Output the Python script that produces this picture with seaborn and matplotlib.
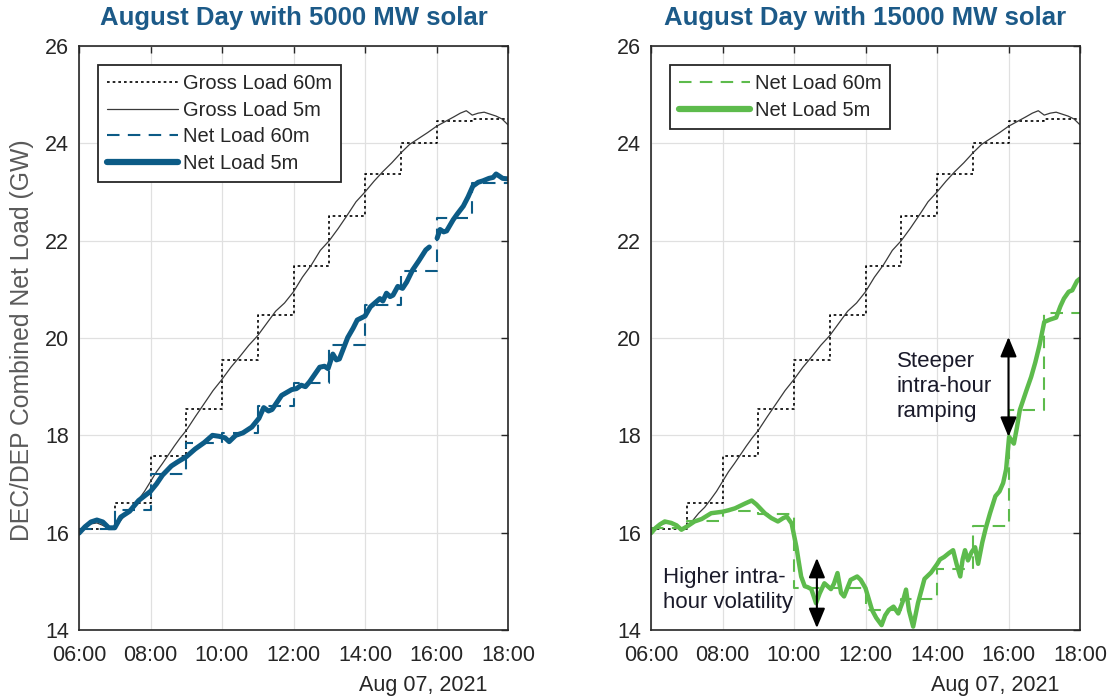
import numpy as np
import pandas as pd
import matplotlib
matplotlib.use("Agg")
import matplotlib.pyplot as plt
import seaborn as sns
from matplotlib.lines import Line2D

# ---------------- data ----------------
hour_starts = [6, 7, 8, 9, 10, 11, 12, 13, 14, 15, 16, 17]
x_ticks = [6, 8, 10, 12, 14, 16, 18]
x_tick_labels = ["06:00", "08:00", "10:00", "12:00", "14:00", "16:00", "18:00"]
y_ticks = [14, 16, 18, 20, 22, 24, 26]

titles = ["August Day with 5000 MW solar", "August Day with 15000 MW solar"]
ylabel = "DEC/DEP Combined Net Load (GW)"
date_label = "Aug 07, 2021"

gross_60m = [16.07, 16.60, 17.58, 18.54, 19.55, 20.47, 21.48, 22.50, 23.38, 24.00, 24.45, 24.51]
net5000_60m = [16.08, 16.47, 17.20, 17.84, 18.05, 18.60, 19.08, 19.85, 20.68, 21.38, 22.47, 23.19]
net15000_60m = [16.09, 16.23, 16.45, 16.38, 14.86, 14.86, 14.41, 14.63, 15.25, 16.14, 18.52, 20.51]

gross_5m_time = ["06:00", "06:10", "06:20", "06:30", "06:40", "06:50", "07:00", "07:10", "07:20", "07:30",
                 "07:40", "07:50", "08:00", "08:10", "08:20", "08:30", "08:40", "08:50", "09:00", "09:15",
                 "09:30", "09:45", "10:00", "10:15", "10:30", "10:45", "11:00", "11:15", "11:30", "11:45",
                 "12:00", "12:15", "12:30", "12:45", "13:00", "13:15", "13:30", "13:45", "14:00", "14:15",
                 "14:30", "14:45", "15:00", "15:15", "15:30", "15:45", "16:00", "16:15", "16:30", "16:40",
                 "16:50", "17:00", "17:10", "17:20", "17:30", "17:40", "17:50", "18:00"]
gross_5m_gw = [16.00, 16.10, 16.18, 16.20, 16.15, 16.08, 16.10, 16.25, 16.40, 16.52,
               16.68, 16.85, 17.05, 17.25, 17.42, 17.60, 17.78, 17.95, 18.10, 18.38,
               18.65, 18.92, 19.15, 19.40, 19.62, 19.85, 20.05, 20.30, 20.55, 20.72,
               20.95, 21.25, 21.50, 21.80, 22.00, 22.25, 22.52, 22.80, 23.00, 23.22,
               23.42, 23.60, 23.80, 23.98, 24.10, 24.22, 24.35, 24.45, 24.55, 24.62,
               24.67, 24.58, 24.62, 24.64, 24.60, 24.56, 24.50, 24.38]

net5000_5m_time = ["06:00", "06:10", "06:20", "06:30", "06:40", "06:50", "07:00", "07:10", "07:25", "07:40",
                   "08:00", "08:10", "08:20", "08:35", "08:45", "09:00", "09:15", "09:30", "09:44", "09:55",
                   "10:05", "10:12", "10:23", "10:35", "10:50", "11:02", "11:10", "11:18", "11:24", "11:40",
                   "11:57", "12:05", "12:13", "12:20", "12:27", "12:44", "12:52", "12:58", "13:06", "13:12",
                   "13:17", "13:31", "13:40", "13:47", "14:00", "14:09", "14:25", "14:30", "14:36", "14:42",
                   "14:47", "14:55", "15:03", "15:10", "15:20", "15:30", "15:42", "15:48", "15:53", "16:01",
                   "16:06", "16:12", "16:17", "16:28", "16:35", "16:45", "16:53", "17:01", "17:10", "17:18",
                   "17:28", "17:35", "17:40", "17:45", "17:51", "18:00"]
net5000_5m_gw = [15.99, 16.12, 16.22, 16.26, 16.22, 16.10, 16.10, 16.32, 16.44, 16.66,
                 16.85, 17.00, 17.18, 17.37, 17.45, 17.56, 17.72, 17.85, 18.00, 17.98,
                 17.95, 17.87, 18.00, 18.05, 18.17, 18.35, 18.57, 18.50, 18.53, 18.82,
                 18.94, 18.96, 19.03, 19.00, 19.10, 19.40, 19.42, 19.37, 19.67, 19.55,
                 19.57, 20.01, 20.20, 20.37, 20.45, 20.64, 20.81, 20.76, 20.92, 20.85,
                 20.88, 21.06, 21.02, 21.15, 21.40, 21.58, 21.81, 21.87, np.nan, 22.05,
                 22.23, 22.18, 22.20, 22.43, 22.55, 22.71, 22.90, 23.12, 23.20, 23.23,
                 23.28, 23.30, 23.37, 23.33, 23.28, 23.27]

net15000_5m_time = ["06:00", "06:08", "06:15", "06:23", "06:34", "06:43", "06:51", "07:02", "07:13", "07:25",
                    "07:41", "08:00", "08:10", "08:21", "08:38", "08:49", "08:57", "09:11", "09:22", "09:33",
                    "09:42", "09:48", "09:56", "10:04", "10:08", "10:12", "10:18", "10:23", "10:29", "10:37",
                    "10:43", "10:51", "11:02", "11:07", "11:13", "11:19", "11:24", "11:35", "11:46", "11:52",
                    "12:00", "12:11", "12:18", "12:27", "12:33", "12:39", "12:47", "12:55", "13:03", "13:08",
                    "13:13", "13:20", "13:28", "13:39", "13:50", "14:00", "14:05", "14:12", "14:20", "14:27",
                    "14:33", "14:39", "14:43", "14:47", "14:52", "14:58", "15:04", "15:09", "15:16", "15:22",
                    "15:29", "15:38", "15:45", "15:51", "15:56", "16:01", "16:05", "16:09", "16:14", "16:19",
                    "16:30", "16:38", "16:45", "16:52", "17:00", "17:10", "17:20", "17:27", "17:33", "17:41",
                    "17:47", "17:55", "18:00"]
net15000_5m_gw = [15.99, 16.10, 16.17, 16.23, 16.20, 16.15, 16.06, 16.14, 16.23, 16.28,
                  16.40, 16.43, 16.46, 16.50, 16.60, 16.66, 16.58, 16.40, 16.30, 16.23,
                  16.30, 16.33, 16.19, 15.71, 15.40, 15.10, 14.90, 14.88, 14.84, 14.55,
                  14.75, 14.96, 14.84, 14.95, 15.17, 14.76, 14.69, 15.03, 15.10, 15.03,
                  14.86, 14.41, 14.25, 14.10, 14.30, 14.41, 14.48, 14.34, 14.60, 14.83,
                  14.40, 14.07, 14.55, 15.05, 15.18, 15.35, 15.45, 15.50, 15.58, 15.64,
                  15.35, 15.10, 15.45, 15.64, 15.43, 15.60, 15.70, 15.36, 15.80, 16.10,
                  16.40, 16.75, 16.85, 17.02, 17.30, 17.97, 17.90, 17.83, 18.15, 18.52,
                  18.92, 19.20, 19.50, 19.85, 20.33, 20.38, 20.42, 20.65, 20.81, 20.95,
                  20.98, 21.17, 21.22]

# ---------------- styling ----------------
BLUE = "#0C5B86"
GREEN = "#5DBB4C"
TITLE_C = "#1C5A88"
DARK = "#262626"

sns.set_style("white")
plt.rcParams["font.family"] = ["Liberation Sans", "DejaVu Sans"]


def to_hours(lst):
    return np.array([int(s[:2]) + int(s[3:]) / 60.0 for s in lst])


def step_frame(vals):
    return pd.DataFrame({"t": list(hour_starts) + [18], "v": list(vals) + [vals[-1]]})


def series_frame(times, vals):
    df = pd.DataFrame({"t": to_hours(times), "v": np.array(vals, dtype=float)})
    df["seg"] = df["v"].isna().cumsum()
    return df.dropna()


fig = plt.figure(figsize=(11.12, 7.0), dpi=100)
axL = fig.add_axes([79 / 1112, 70 / 700, 429 / 1112, 584 / 700])
axR = fig.add_axes([651 / 1112, 70 / 700, 429 / 1112, 584 / 700])

GROSS60_KW = dict(color="black", lw=1.2, linestyle=(0, (1.6, 1.8)))
GROSS5_KW = dict(color="#3a3a3a", lw=0.9)


def draw_panel(ax, net60, net5_t, net5_v, col, lw5):
    g60 = step_frame(gross_60m)
    sns.lineplot(data=g60, x="t", y="v", ax=ax, drawstyle="steps-post", estimator=None,
                 sort=False, legend=False, **GROSS60_KW)
    g5 = series_frame(gross_5m_time, gross_5m_gw)
    sns.lineplot(data=g5, x="t", y="v", ax=ax, estimator=None, sort=False, legend=False, **GROSS5_KW)
    n60 = step_frame(net60)
    sns.lineplot(data=n60, x="t", y="v", ax=ax, drawstyle="steps-post", estimator=None,
                 sort=False, legend=False, color=col, lw=1.5, linestyle=(0, (6, 4)))
    n5 = series_frame(net5_t, net5_v)
    sns.lineplot(data=n5, x="t", y="v", units="seg", ax=ax, estimator=None, sort=False,
                 legend=False, color=col, lw=lw5, solid_capstyle="round", solid_joinstyle="round")


def style_axes(ax):
    ax.set_xlim(6, 18)
    ax.set_ylim(14, 26)
    ax.set_xticks(x_ticks)
    ax.set_xticklabels(x_tick_labels)
    ax.set_yticks(y_ticks)
    ax.grid(True, color="#e0e0e0", lw=0.9)
    ax.set_axisbelow(True)
    ax.tick_params(direction="in", top=True, right=True, length=5, width=1.0,
                   colors=DARK, labelsize=15.5)
    ax.tick_params(axis="x", pad=11)
    ax.tick_params(axis="y", pad=7)
    for s in ax.spines.values():
        s.set_visible(True)
        s.set_color(DARK)
        s.set_linewidth(1.2)
    ax.set_xlabel("")
    ax.set_ylabel("")


draw_panel(axL, net5000_60m, net5000_5m_time, net5000_5m_gw, BLUE, 3.6)
draw_panel(axR, net15000_60m, net15000_5m_time, net15000_5m_gw, GREEN, 3.2)
style_axes(axL)
style_axes(axR)

LEG_KW = dict(loc="upper left", fontsize=14.5, frameon=True, fancybox=False, edgecolor=DARK,
              framealpha=1, handlelength=3.5, handletextpad=0.25, borderaxespad=0.95,
              labelspacing=0.38, borderpad=0.45)

hL = [Line2D([], [], **GROSS60_KW), Line2D([], [], **GROSS5_KW),
      Line2D([], [], color=BLUE, lw=1.5, linestyle=(0, (6, 4))),
      Line2D([], [], color=BLUE, lw=4.5)]
legL = axL.legend(hL, ["Gross Load 60m", "Gross Load 5m", "Net Load 60m", "Net Load 5m"], **LEG_KW)
legL.get_frame().set_linewidth(1.3)

hR = [Line2D([], [], color=GREEN, lw=1.5, linestyle=(0, (6, 4))),
      Line2D([], [], color=GREEN, lw=4.5)]
legR = axR.legend(hR, ["Net Load 60m", "Net Load 5m"], **LEG_KW)
legR.get_frame().set_linewidth(1.3)

# annotations (right panel)
ARROW = dict(arrowstyle="<|-|>,head_length=1.2,head_width=0.5", color="black", lw=1.5,
             shrinkA=0, shrinkB=0)
axR.annotate("", xy=(10.64, 14.04), xytext=(10.64, 15.48), arrowprops=ARROW)
axR.annotate("", xy=(16.0, 17.97), xytext=(16.0, 20.02), arrowprops=ARROW)
axR.text(6.34, 14.82, "Higher intra-\nhour volatility", ha="left", va="center",
         fontsize=16, color="#1a1a2a", linespacing=1.25)
axR.text(12.88, 19.0, "Steeper\nintra-hour\nramping", ha="left", va="center",
         fontsize=16, color="#1a1a2a", linespacing=1.25)

# titles, y label and date labels
fig.text(293.5 / 1112, 1 - 18 / 700, titles[0], ha="center", va="center",
         fontsize=18.5, fontweight="bold", color=TITLE_C)
fig.text(865.5 / 1112, 1 - 18 / 700, titles[1], ha="center", va="center",
         fontsize=18.5, fontweight="bold", color=TITLE_C)
fig.text(22 / 1112, 1 - 340 / 700, ylabel, rotation=90, ha="center", va="center",
         fontsize=17.8, color="#5a5a5a")
fig.text(487 / 1112, 1 - 685 / 700, date_label, ha="right", va="center", fontsize=15.5, color=DARK)
fig.text(1059 / 1112, 1 - 685 / 700, date_label, ha="right", va="center", fontsize=15.5, color=DARK)

fig.savefig("out.png", dpi=100)
